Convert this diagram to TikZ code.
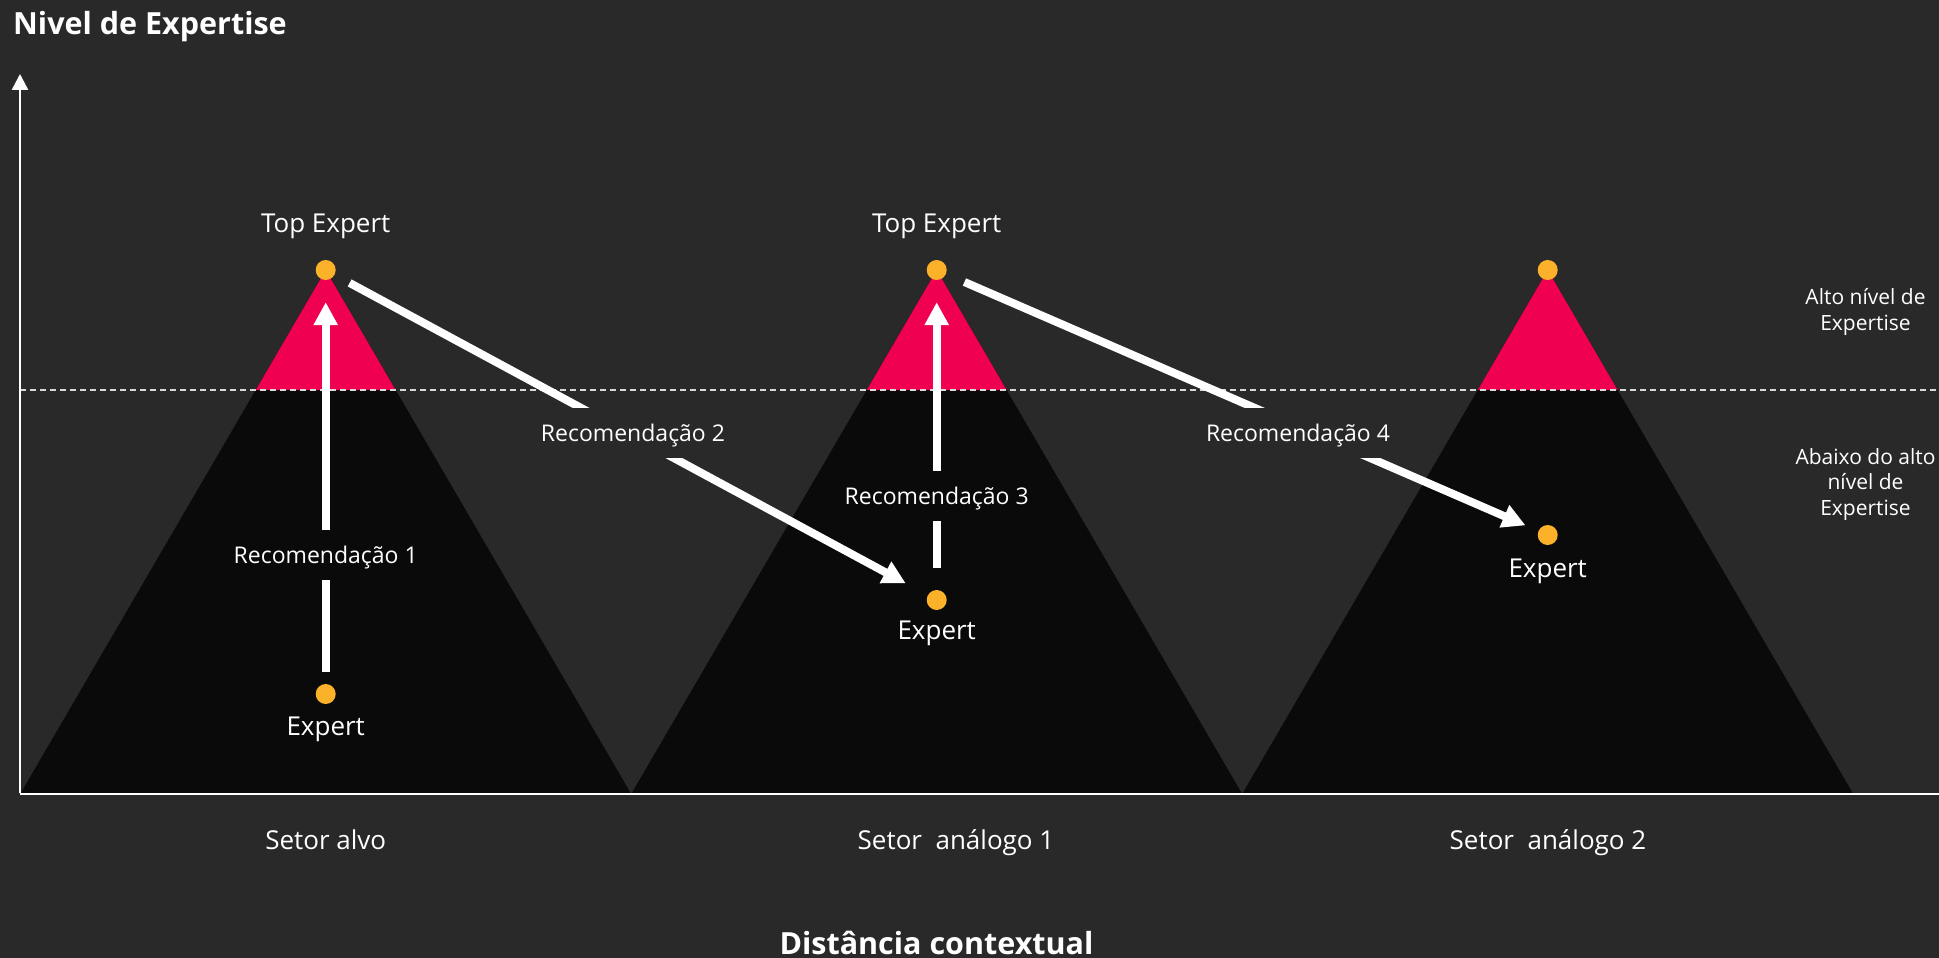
\documentclass[tikz,border=0pt]{standalone}
\usepackage{fontspec}
\setmainfont{Open Sans}
\usetikzlibrary{arrows.meta}
\definecolor{bg}{RGB}{41,41,41}
\definecolor{tri}{RGB}{10,10,10}
\definecolor{peak}{RGB}{240,0,80}
\definecolor{dotc}{RGB}{251,178,42}
\begin{document}
\begin{tikzpicture}[x=1pt,y=-1pt,
  dotn/.style={circle,fill=dotc,inner sep=0pt,minimum size=20pt},
  rec/.style={draw=white,line width=8pt,-{Triangle[width=23pt,length=23pt]}},
  reclab/.style={text=white,font=\fontsize{23}{28}\selectfont,inner xsep=4pt,inner ysep=16.8pt,text height=16.4pt,text depth=0pt},
  lab/.style={text=white,font=\fontsize{26}{31}\selectfont,inner sep=0pt,anchor=base},
  sidelab/.style={text=white,font=\fontsize{21}{25.5}\selectfont,inner sep=0pt,align=center,anchor=base},
  titlelab/.style={text=white,font=\fontsize{30.5}{36}\selectfont\bfseries,inner sep=0pt},
  axisline/.style={draw=white,line width=2.5pt},
  level/.style={draw=white!85!black,line width=1.5pt,dash pattern=on 6pt off 4pt}
]
\fill[bg] (0,0) rectangle (1939,958);
\useasboundingbox (0,0) rectangle (1939,958);
% pyramids
\foreach \cx in {325.7,936.7,1547.7}{
  \fill[tri] (\cx-305.5,794) -- (\cx,270) -- (\cx+305.5,794) -- cycle;
  \fill[peak] (\cx-69.95,390) -- (\cx,270) -- (\cx+69.95,390) -- cycle;
}
% coordinates
\coordinate (o) at (20,794);
\coordinate (ytop) at (20,74);
\coordinate (xend) at (1939,794);
\coordinate (lvl0) at (20,390);
\coordinate (lvl1) at (1939,390);
% level line
\draw[level] (lvl0) -- (lvl1);
% axes
\draw[axisline] (o) -- (xend);
\draw[axisline,-{Triangle[width=16pt,length=16pt]}] ([yshift=1pt]o) -- (ytop);
% dots
\node[dotn] (t1) at (325.7,270) {};
\node[dotn] (t2) at (936.7,270) {};
\node[dotn] (t3) at (1547.7,270) {};
\node[dotn] (e1) at (325.7,694) {};
\node[dotn] (e2) at (936.7,600) {};
\node[dotn] (e3) at (1547.7,535) {};
% arrows
\draw[rec,shorten <=12pt,shorten >=22pt] (e1) -- (t1);
\draw[rec,shorten <=22pt,shorten >=22pt] (e2) -- (t2);
\draw[rec,shorten <=17pt,shorten >=25pt] (t1) -- (e2);
\draw[rec,shorten <=20pt,shorten >=14pt] (t2) -- (e3);
% arrow labels
\node[reclab,fill=tri] (r1) at (325.7,555.4) {Recomendação 1};
\node[reclab,fill=bg] (r2) at (633,433) {Recomendação 2};
\node[reclab,fill=tri] (r3) at (936.7,496) {Recomendação 3};
\node[reclab,fill=bg] (r4) at (1298,433) {Recomendação 4};
% expert labels
\node[lab] (te1) at (325.7,232) {Top Expert};
\node[lab] (te2) at (936.7,232) {Top Expert};
\node[lab] (ex1) at (325.7,735) {Expert};
\node[lab] (ex2) at (936.7,639.5) {Expert};
\node[lab] (ex3) at (1547.7,577) {Expert};
% sector labels
\node[lab] (s1) at (325.7,849) {Setor alvo};
\node[lab] (s2) at (956,849) {Setor~~análogo 1};
\node[lab] (s3) at (1548,849) {Setor~~análogo 2};
% side labels (base = last line)
\node[sidelab] (hi) at (1865.5,330) {Alto nível de\\Expertise};
\node[sidelab] (lo) at (1865.5,515) {Abaixo do alto\\nível de\\Expertise};
% titles
\node[titlelab,anchor=base west] (ytitle) at (13,35) {Nivel de Expertise};
\node[titlelab,anchor=base] (xtitle) at (936.5,954) {Distância contextual};
\end{tikzpicture}
\end{document}
